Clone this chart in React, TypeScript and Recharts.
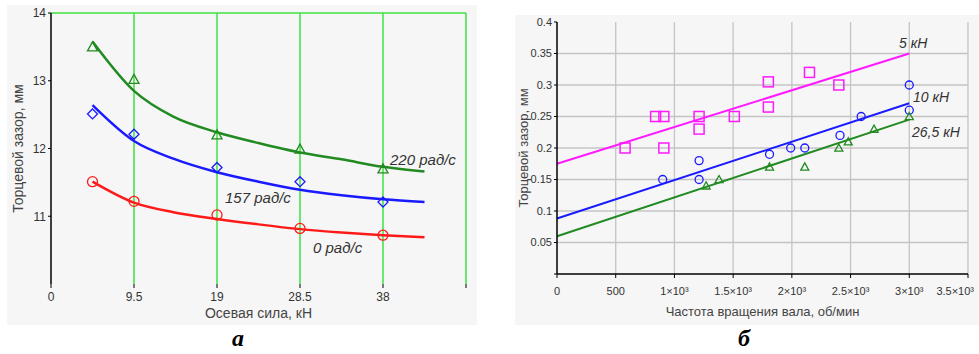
import React from "react";
import {
  ComposedChart,
  Line,
  Scatter,
  XAxis,
  YAxis,
  CartesianGrid,
  ReferenceLine,
  Label,
} from "recharts";

// panel "а": face gap vs axial force, three shaft speeds
const forceX = [4.75, 9.5, 19, 28.5, 38];
const gap220 = [13.5, 13.02, 12.2, 11.99, 11.7];
const gap157 = [12.51, 12.21, 11.72, 11.51, 11.21];
const gap0 = [11.51, 11.22, 11.02, 10.82, 10.72];

// fitted curves
const fitX = [4.75, 9.5, 14, 19, 23.75, 28.5, 33.25, 38, 42.75];
const fit220 = [13.58, 12.85, 12.47, 12.24, 12.08, 11.94, 11.84, 11.73, 11.66];
const fit157 = [12.64, 12.11, 11.85, 11.65, 11.51, 11.39, 11.31, 11.25, 11.21];
const fit0 = [11.51, 11.2, 11.06, 10.96, 10.88, 10.81, 10.76, 10.72, 10.69];

const forceTicks = [0, 9.5, 19, 28.5, 38, 47.5];
const gapTicksA = [11, 12, 13, 14];

// panel "б": face gap vs shaft speed, three loads
const rpm5 = [580, 840, 910, 910, 1210, 1210, 1510, 1800, 1800, 2150, 2400];
const gap5 = [0.2, 0.25, 0.25, 0.2, 0.25, 0.23, 0.25, 0.305, 0.265, 0.32, 0.3];
const rpm10 = [900, 1210, 1210, 1810, 1990, 2110, 2410, 2590, 3000, 3000];
const gap10 = [0.15, 0.18, 0.15, 0.19, 0.2, 0.2, 0.22, 0.25, 0.3, 0.26];
const rpm26 = [1270, 1380, 1810, 2110, 2400, 2480, 2700, 3000];
const gap26 = [0.14, 0.15, 0.17, 0.17, 0.2, 0.21, 0.23, 0.25];

const lineX = [0, 3000];
const line5 = [0.175, 0.35];
const line10 = [0.088, 0.271];
const line26 = [0.06, 0.245];

const rpmTicks = [0, 500, 1000, 1500, 2000, 2500, 3000, 3500];
const rpmLabels = ["0", "500", "1×10³", "1.5×10³", "2×10³", "2.5×10³", "3×10³", "3.5×10³"];
const gapTicksB = [0, 0.05, 0.1, 0.15, 0.2, 0.25, 0.3, 0.35, 0.4];

const zip = (xs: number[], ys: number[]) => xs.map((x, i) => ({ x, y: ys[i] }));

const FONT = "'Liberation Sans', Arial, sans-serif";

// hollow marker shapes
const triangle = (color: string, s: number) => (p: any) => (
  <polygon
    points={`${p.cx},${p.cy - s} ${p.cx - s},${p.cy + s * 0.8} ${p.cx + s},${p.cy + s * 0.8}`}
    fill="none"
    stroke={color}
    strokeWidth={1.3}
  />
);
const diamond = (color: string, s: number) => (p: any) => (
  <polygon
    points={`${p.cx},${p.cy - s} ${p.cx + s},${p.cy} ${p.cx},${p.cy + s} ${p.cx - s},${p.cy}`}
    fill="none"
    stroke={color}
    strokeWidth={1.3}
  />
);
const circle = (color: string, r: number) => (p: any) => (
  <circle cx={p.cx} cy={p.cy} r={r} fill="none" stroke={color} strokeWidth={1.3} />
);
const square = (color: string, s: number) => (p: any) => (
  <rect x={p.cx - s} y={p.cy - s} width={2 * s} height={2 * s} fill="none" stroke={color} strokeWidth={1.5} />
);

// x tick for panel б: last label is pulled left so it stays on the page
const RpmTick = (p: any) => {
  const v = p.payload.value;
  const last = v === 3500;
  return (
    <text
      x={last ? p.x + 11 : p.x}
      y={p.y + 10}
      textAnchor={last ? "end" : "middle"}
      fill="#333"
      fontSize={11}
      fontFamily={FONT}
    >
      {rpmLabels[rpmTicks.indexOf(v)]}
    </text>
  );
};

const note = (left: number, top: number, size = 15): React.CSSProperties => ({
  position: "absolute",
  left,
  top,
  fontFamily: FONT,
  fontStyle: "italic",
  fontSize: size,
  color: "#333",
  whiteSpace: "nowrap",
});

function PanelA() {
  return (
    <div style={{ position: "absolute", left: 7, top: 5, width: 470, height: 320, background: "#f6f6f6" }}>
      <ComposedChart width={470} height={320} margin={{ top: 8, right: 11, left: 0, bottom: 0 }}>
        <CartesianGrid
          stroke="#3ee03e"
          strokeWidth={1.5}
          horizontal={false}
          verticalValues={[9.5, 19, 28.5, 38, 47.5]}
        />
        <ReferenceLine y={14} stroke="#3ee03e" strokeWidth={1.5} />
        <XAxis
          dataKey="x"
          type="number"
          domain={[0, 47.5]}
          ticks={forceTicks}
          tickFormatter={(v: number) => (v === 47.5 ? "" : String(v))}
          axisLine={false}
          tickLine={{ stroke: "#000" }}
          tickSize={4}
          tickMargin={4}
          height={41}
          tick={{ fill: "#333", fontSize: 12, fontFamily: FONT }}
        >
          <Label value="Осевая сила, кН" position="insideBottom" offset={7} fill="#444" fontSize={14} fontFamily={FONT} />
        </XAxis>
        <YAxis
          type="number"
          domain={[10, 14]}
          ticks={gapTicksA}
          width={44}
          axisLine={{ stroke: "#000", strokeWidth: 1.5 }}
          tickLine={{ stroke: "#000" }}
          tickSize={3}
          tick={{ fill: "#333", fontSize: 12, fontFamily: FONT }}
        >
          <Label
            value="Торцевой зазор, мм"
            angle={-90}
            position="insideLeft"
            offset={11}
            fill="#444"
            fontSize={14}
            fontFamily={FONT}
            style={{ textAnchor: "middle" }}
          />
        </YAxis>
        <Line data={zip(fitX, fit220)} dataKey="y" type="monotone" stroke="#218a21" strokeWidth={2.5} dot={false} isAnimationActive={false} />
        <Line data={zip(fitX, fit157)} dataKey="y" type="monotone" stroke="#1a1aff" strokeWidth={2.5} dot={false} isAnimationActive={false} />
        <Line data={zip(fitX, fit0)} dataKey="y" type="monotone" stroke="#ff1a1a" strokeWidth={2.5} dot={false} isAnimationActive={false} />
        <Scatter data={zip(forceX, gap220)} dataKey="y" shape={triangle("#218a21", 5)} isAnimationActive={false} />
        <Scatter data={zip(forceX, gap157)} dataKey="y" shape={diamond("#1a1aff", 5)} isAnimationActive={false} />
        <Scatter data={zip(forceX, gap0)} dataKey="y" shape={circle("#ff1a1a", 5)} isAnimationActive={false} />
      </ComposedChart>
    </div>
  );
}

function PanelB() {
  return (
    <div style={{ position: "absolute", left: 515, top: 15, width: 464, height: 310, background: "#f6f6f6" }}>
      <ComposedChart width={464} height={310} margin={{ top: 7, right: 11, left: 0, bottom: 0 }}>
        <CartesianGrid
          stroke="#c4c4c4"
          strokeWidth={1.3}
          verticalValues={[500, 1000, 1500, 2000, 2500, 3000, 3500]}
          horizontalValues={[0.05, 0.1, 0.15, 0.2, 0.25, 0.3, 0.35]}
        />
        <XAxis
          dataKey="x"
          type="number"
          domain={[0, 3500]}
          ticks={rpmTicks}
          axisLine={{ stroke: "#000", strokeWidth: 1.5 }}
          tickLine={{ stroke: "#000" }}
          tickSize={4}
          tickMargin={7}
          height={51}
          tick={<RpmTick />}
        >
          <Label value="Частота вращения вала, об/мин" position="insideBottom" offset={9} fill="#444" fontSize={13} fontFamily={FONT} />
        </XAxis>
        <YAxis
          type="number"
          domain={[0, 0.4]}
          ticks={gapTicksB}
          tickFormatter={(v: number) => (v === 0 ? "" : String(v))}
          width={42}
          axisLine={{ stroke: "#000", strokeWidth: 1.5 }}
          tickLine={{ stroke: "#000" }}
          tickSize={3}
          tick={{ fill: "#333", fontSize: 11, fontFamily: FONT }}
        >
          <Label
            value="Торцевой зазор, мм"
            angle={-90}
            position="insideLeft"
            offset={8}
            fill="#444"
            fontSize={13}
            fontFamily={FONT}
            style={{ textAnchor: "middle" }}
          />
        </YAxis>
        <Line data={zip(lineX, line5)} dataKey="y" type="linear" stroke="#ff1aff" strokeWidth={2} dot={false} isAnimationActive={false} />
        <Line data={zip(lineX, line10)} dataKey="y" type="linear" stroke="#1a1aff" strokeWidth={2} dot={false} isAnimationActive={false} />
        <Line data={zip(lineX, line26)} dataKey="y" type="linear" stroke="#218a21" strokeWidth={2} dot={false} isAnimationActive={false} />
        <Scatter data={zip(rpm5, gap5)} dataKey="y" shape={square("#ff1aff", 5)} isAnimationActive={false} />
        <Scatter data={zip(rpm10, gap10)} dataKey="y" shape={circle("#1a1aff", 4)} isAnimationActive={false} />
        <Scatter data={zip(rpm26, gap26)} dataKey="y" shape={triangle("#218a21", 4)} isAnimationActive={false} />
      </ComposedChart>
    </div>
  );
}

export default function App() {
  return (
    <div style={{ position: "absolute", left: 0, top: 0, width: 979, height: 354, background: "#fff", overflow: "hidden" }}>
      <PanelA />
      <PanelB />
      <div style={note(390, 151)}>220 рад/с</div>
      <div style={note(225, 189)}>157 рад/с</div>
      <div style={note(313, 239)}>0 рад/с</div>
      <div style={note(899, 35, 14)}>5 кН</div>
      <div style={note(913, 89, 14)}>10 кН</div>
      <div style={note(912, 124, 14)}>26,5 кН</div>
      <div style={{ position: "absolute", left: 232, top: 325, fontFamily: "'Liberation Serif', serif", fontWeight: "bold", fontStyle: "italic", fontSize: 24 }}>а</div>
      <div style={{ position: "absolute", left: 738, top: 325, fontFamily: "'Liberation Serif', serif", fontWeight: "bold", fontStyle: "italic", fontSize: 24 }}>б</div>
    </div>
  );
}
